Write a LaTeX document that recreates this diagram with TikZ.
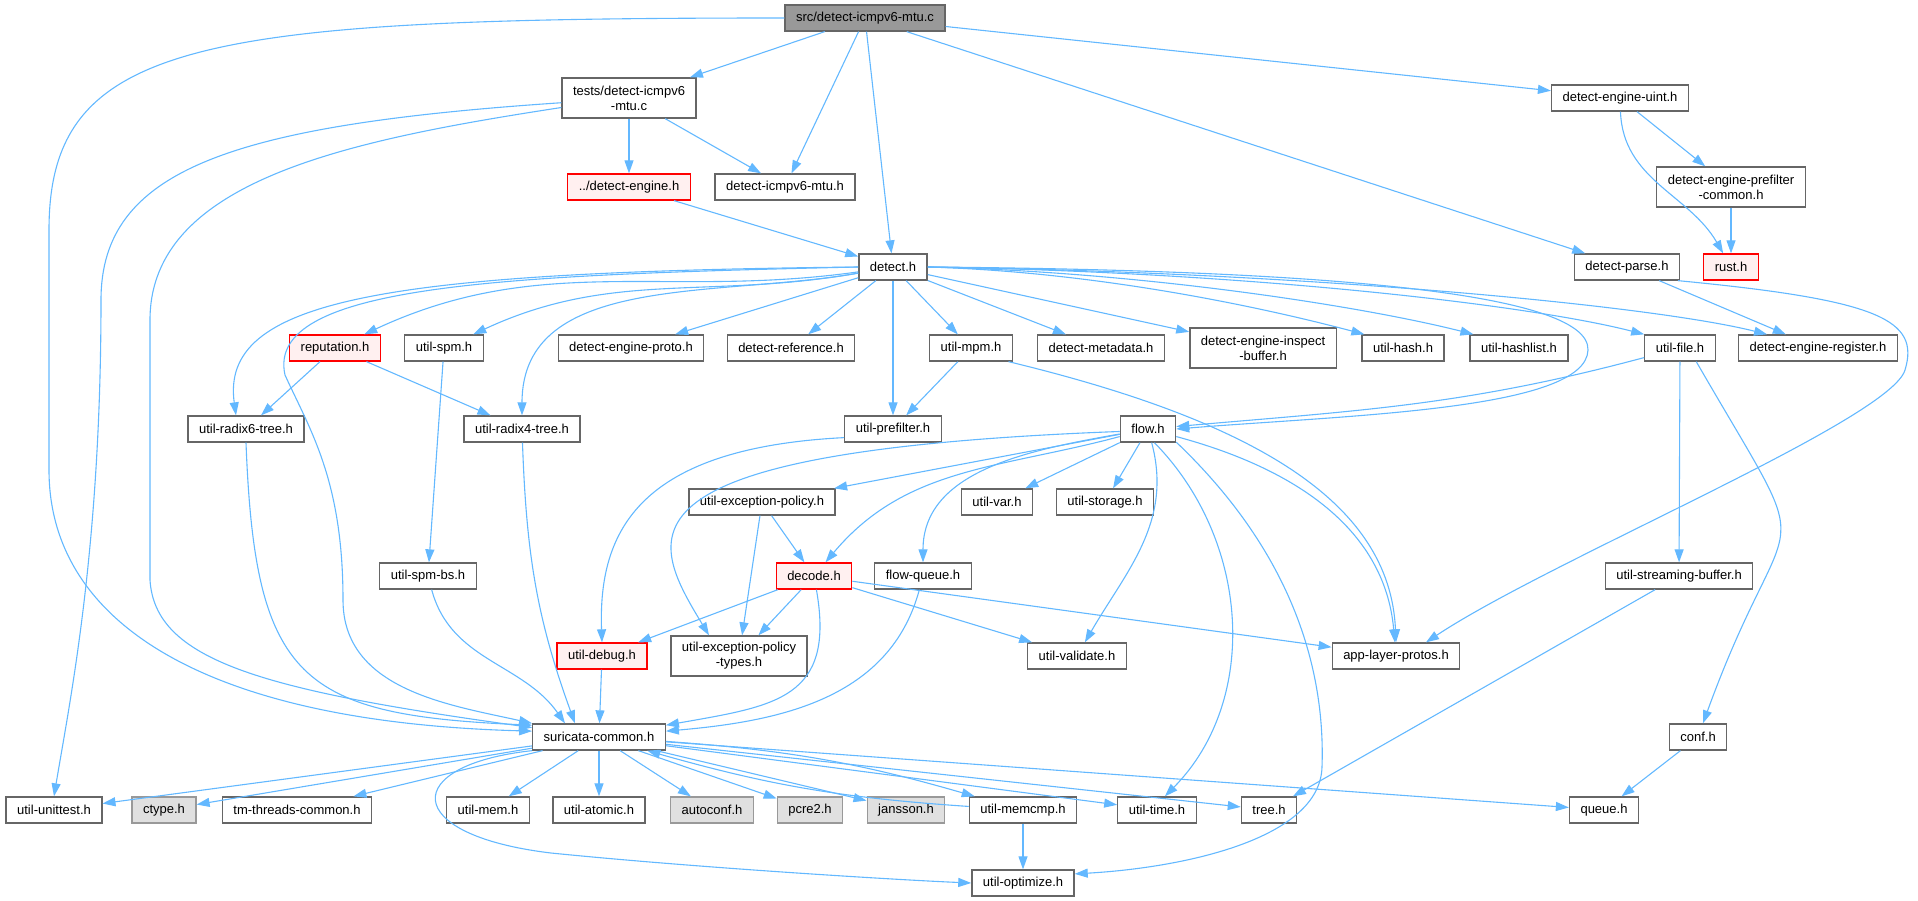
\documentclass[tikz,border=0pt]{standalone}
\usepackage{fontspec}
\setmainfont{Liberation Sans}
\usetikzlibrary{positioning,arrows.meta}
\definecolor{edgeblue}{HTML}{63B8FF}
\definecolor{boxgray}{HTML}{666666}
\definecolor{rootfill}{HTML}{999999}
\definecolor{redfill}{HTML}{FFF0F0}
\definecolor{redline}{HTML}{FF0000}
\definecolor{grayfill}{HTML}{E0E0E0}
\definecolor{grayline}{HTML}{999999}

\begin{document}
\begin{tikzpicture}[x = 1pt, y = 1pt, node distance = 0pt]
    \tikzstyle{arrow} = [edgeblue, line width = 1.1pt, -{Triangle[length = 13pt, width = 9pt]}]
    \tikzstyle{hdr} = [rectangle, draw = boxgray, fill = white, line width = 1.3pt, inner xsep = 11pt, minimum height = 26pt, align = center, font = \fontsize{13}{15}\selectfont]
    \tikzstyle{hdrred} = [hdr, draw = redline, fill = redfill]
    \tikzstyle{hdrgray} = [hdr, draw = grayline, fill = grayfill]
    \tikzstyle{hdrroot} = [hdr, fill = rootfill]
    \useasboundingbox (0,0) rectangle (1918,-901);

    \node[hdrroot](Src) at (865,-18){src/detect-icmpv6-mtu.c};

    \node[hdr, below of = Src, xshift = -236pt, yshift = -80pt, minimum height = 40pt](Tst){tests/detect-icmpv6\\-mtu.c};
    \node[hdr, right of = Tst, xshift = 991pt](Uint){detect-engine-uint.h};

    \node[hdrred, below of = Tst, yshift = -89pt](DetEng){../detect-engine.h};
    \node[hdr, right of = DetEng, xshift = 156pt](Mtuh){detect-icmpv6-mtu.h};
    \node[hdr, right of = Mtuh, xshift = 946pt, minimum height = 40pt](Pcom){detect-engine-prefilter\\-common.h};

    \node[hdr, below of = DetEng, xshift = 264pt, yshift = -80pt](Det){detect.h};
    \node[hdr, right of = Det, xshift = 734pt](Parse){detect-parse.h};
    \node[hdrred, right of = Parse, xshift = 104pt](Rust){rust.h};

    \node[hdrred, below of = Det, xshift = -558pt, yshift = -81pt](Rep){reputation.h};
    \node[hdr, right of = Rep, xshift = 109pt](Spm){util-spm.h};
    \node[hdr, right of = Spm, xshift = 187pt](Proto){detect-engine-proto.h};
    \node[hdr, right of = Proto, xshift = 160pt](Ref){detect-reference.h};
    \node[hdr, right of = Ref, xshift = 180pt](Mpm){util-mpm.h};
    \node[hdr, right of = Mpm, xshift = 130pt](Meta){detect-metadata.h};
    \node[hdr, right of = Meta, xshift = 162pt, minimum height = 40pt](Insp){detect-engine-inspect\\-buffer.h};
    \node[hdr, right of = Insp, xshift = 140pt](Hash){util-hash.h};
    \node[hdr, right of = Hash, xshift = 116pt](Hlist){util-hashlist.h};
    \node[hdr, right of = Hlist, xshift = 161pt](File){util-file.h};
    \node[hdr, right of = File, xshift = 138pt](Reg){detect-engine-register.h};

    \node[hdr, below of = Rep, xshift = -89pt, yshift = -81pt](Rx6){util-radix6-tree.h};
    \node[hdr, right of = Rx6, xshift = 276pt](Rx4){util-radix4-tree.h};
    \node[hdr, right of = Rx4, xshift = 371pt](Pref){util-prefilter.h};
    \node[hdr, right of = Pref, xshift = 255pt](Flow){flow.h};

    \node[hdr, below of = Pref, xshift = -131pt, yshift = -73pt](Exc){util-exception-policy.h};
    \node[hdr, right of = Exc, xshift = 235pt](Var){util-var.h};
    \node[hdr, right of = Var, xshift = 108pt](Stor){util-storage.h};

    \node[hdr, below of = Exc, xshift = -334pt, yshift = -74pt](SpmBs){util-spm-bs.h};
    \node[hdrred, right of = SpmBs, xshift = 386pt](Dec){decode.h};
    \node[hdr, right of = Dec, xshift = 109pt](Fq){flow-queue.h};
    \node[hdr, right of = Fq, xshift = 756pt](Sbuf){util-streaming-buffer.h};

    \node[hdrred, below of = SpmBs, xshift = 174pt, yshift = -80pt](Dbg){util-debug.h};
    \node[hdr, right of = Dbg, xshift = 137pt, minimum height = 40pt](ExcT){util-exception-policy\\-types.h};
    \node[hdr, right of = ExcT, xshift = 338pt](Val){util-validate.h};
    \node[hdr, right of = Val, xshift = 319pt](Alp){app-layer-protos.h};

    \node[hdr, below of = Dbg, xshift = -3pt, yshift = -81pt](Sc){suricata-common.h};
    \node[hdr, right of = Sc, xshift = 1099pt](Conf){conf.h};

    \node[hdr, below of = Sc, xshift = -545pt, yshift = -73pt](Unit){util-unittest.h};
    \node[hdrgray, right of = Unit, xshift = 110pt](Ctype){ctype.h};
    \node[hdr, right of = Ctype, xshift = 133pt](Tm){tm-threads-common.h};
    \node[hdr, right of = Tm, xshift = 191pt](Mem){util-mem.h};
    \node[hdr, right of = Mem, xshift = 111pt](Atom){util-atomic.h};
    \node[hdrgray, right of = Atom, xshift = 113pt](Acf){autoconf.h};
    \node[hdrgray, right of = Acf, xshift = 98pt](Pcre){pcre2.h};
    \node[hdrgray, right of = Pcre, xshift = 96pt](Jan){jansson.h};
    \node[hdr, right of = Jan, xshift = 117pt](Memcmp){util-memcmp.h};
    \node[hdr, right of = Memcmp, xshift = 134pt](Time){util-time.h};
    \node[hdr, right of = Time, xshift = 112pt](Tree){tree.h};
    \node[hdr, right of = Tree, xshift = 335pt](Queue){queue.h};

    \node[hdr, below of = Memcmp, yshift = -73pt](Opt){util-optimize.h};

    \draw[arrow] (Src)--(Tst);
    \draw[arrow] (Src)--(Mtuh);
    \draw[arrow] (Src)--(Det);
    \draw[arrow] (Src)--(Uint);
    \draw[arrow] (Src)--(Parse);
    \draw[arrow] (Src.west) .. controls (200,-18) and (49,-40) .. (49,-230) -- (49,-470) .. controls (49,-620) and (200,-722) .. (Sc.175);

    \draw[arrow] (Tst)--(DetEng);
    \draw[arrow] (Tst)--(Mtuh);
    \draw[arrow] (Tst.184) .. controls (230,-125) and (101,-170) .. (101,-300) .. controls (101,-550) and (70,-700) .. (Unit.north);
    \draw[arrow] (Tst.188) .. controls (350,-140) and (150,-180) .. (150,-320) -- (150,-580) .. controls (155,-660) and (260,-690) .. (Sc.172);
    \draw[arrow] (DetEng)--(Det);

    \draw[arrow] (Uint)--(Pcom);
    \draw[arrow] (Uint) to[out = -88, in = 120] (Rust);
    \draw[arrow] (Pcom)--(Rust);
    \draw[arrow] (Parse)--(Reg);
    \draw[arrow] (Parse.-15) .. controls (1880,-300) and (1920,-320) .. (1905,-370) .. controls (1890,-420) and (1550,-560) .. ([xshift = 30pt]Alp.north);

    \draw[arrow] (Det) to[out = 188, in = 25] (Rep);
    \draw[arrow] (Det) to[out = 190, in = 25] (Spm);
    \draw[arrow] (Det) to[out = 190, in = 90] (Rx4);
    \draw[arrow] (Det.west) .. controls (380,-272) and (220,-300) .. ([xshift = -10pt]Rx6.north);
    \draw[arrow] (Det.west) .. controls (500,-275) and (265,-285) .. (285,-375) .. controls (310,-430) and (343,-480) .. (343,-600) .. controls (343,-690) and (450,-705) .. (Sc.north west);
    \draw[arrow] (Det)--(Proto);
    \draw[arrow] (Det)--(Ref);
    \draw[arrow] (Det)--(Pref);
    \draw[arrow] (Det)--(Mpm);
    \draw[arrow] (Det)--(Meta);
    \draw[arrow] (Det)--(Insp);
    \draw[arrow] (Det.east) .. controls (1100,-272) and (1265,-308) .. ([xshift = 3pt]Hash.north west);
    \draw[arrow] (Det.east) .. controls (1150,-272) and (1370,-308) .. ([xshift = 4pt]Hlist.north west);
    \draw[arrow] (Det.east) .. controls (1250,-272) and (1530,-305) .. (File.north west);
    \draw[arrow] (Det.east) .. controls (1300,-272) and (1650,-305) .. ([xshift = 29pt]Reg.north west);
    \draw[arrow] (Det.east) .. controls (1300,-270) and (1590,-290) .. (1588,-350) .. controls (1586,-410) and (1350,-415) .. (Flow.east);

    \draw[arrow] (Rep)--(Rx6);
    \draw[arrow] (Rep)--(Rx4);
    \draw[arrow] (Spm)--(SpmBs);
    \draw[arrow] (Mpm)--(Pref);
    \draw[arrow] (Mpm.-20) .. controls (1250,-420) and (1390,-500) .. (Alp.north);
    \draw[arrow] (File) to[out = 195, in = 5] (Flow);
    \draw[arrow] (File)--(Sbuf);
    \draw[arrow] (File.-40) to[out = -60, in = 70, looseness = 1.8] (Conf);

    \draw[arrow] (Rx6.south) .. controls (255,-680) and (300,-715) .. (Sc.170);
    \draw[arrow] (Rx4) to[out = -88, in = 110] ([xshift = -24pt]Sc.north);
    \draw[arrow] (SpmBs) to[out = -75, in = 125] ([xshift = -34pt]Sc.north);
    \draw[arrow] (Pref.190) .. controls (640,-448) and (598,-530) .. (Dbg.north);

    \draw[arrow] (Flow.185) .. controls (601,-451) and (649,-536) .. ([xshift = -30pt]ExcT.north);
    \draw[arrow] (Flow)--(Exc);
    \draw[arrow] (Flow) to[out = 195, in = 50] (Dec);
    \draw[arrow] (Flow) to[out = 190, in = 90] (Fq);
    \draw[arrow] (Flow)--(Var);
    \draw[arrow] (Flow)--(Stor);
    \draw[arrow] (Flow) to[out = -75, in = 60] (Val);
    \draw[arrow] (Flow.-65) .. controls (1250,-540) and (1260,-700) .. (Time.60);
    \draw[arrow] (Flow.-25) .. controls (1300,-560) and (1325,-680) .. (1322,-767) .. controls (1320,-840) and (1180,-868) .. (Opt.10);
    \draw[arrow] (Flow) to[out = -15, in = 95] (Alp);

    \draw[arrow] (Exc)--(Dec);
    \draw[arrow] (Exc)--(ExcT);
    \draw[arrow] (Dec)--(Dbg);
    \draw[arrow] (Dec)--(ExcT);
    \draw[arrow] (Dec) to[out = -80, in = 10, looseness = 1.4] (Sc);
    \draw[arrow] (Dec)--(Val);
    \draw[arrow] (Dec)--(Alp);
    \draw[arrow] (Fq) to[out = -105, in = 5] (Sc);
    \draw[arrow] (Sbuf)--(Tree);
    \draw[arrow] (Conf)--(Queue);
    \draw[arrow] (Dbg)--(Sc);

    \draw[arrow] (Sc)--(Unit);
    \draw[arrow] (Sc)--(Ctype);
    \draw[arrow] (Sc)--(Tm);
    \draw[arrow] (Sc)--(Mem);
    \draw[arrow] (Sc)--(Atom);
    \draw[arrow] (Sc)--(Acf);
    \draw[arrow] (Sc)--(Pcre);
    \draw[arrow] (Sc)--(Jan);
    \draw[arrow] (Sc) to[bend left = 6] (Memcmp);
    \draw[arrow] (Memcmp) to[bend left = 6] (Sc);
    \draw[arrow] (Sc)--(Time);
    \draw[arrow] (Sc)--(Tree);
    \draw[arrow] (Sc)--(Queue);
    \draw[arrow] (Sc.south west) .. controls (400,-765) and (400,-835) .. (551,-853) .. controls (700,-868) and (900,-880) .. (Opt.west);
    \draw[arrow] (Memcmp)--(Opt);

    \end{tikzpicture}
\end{document}
